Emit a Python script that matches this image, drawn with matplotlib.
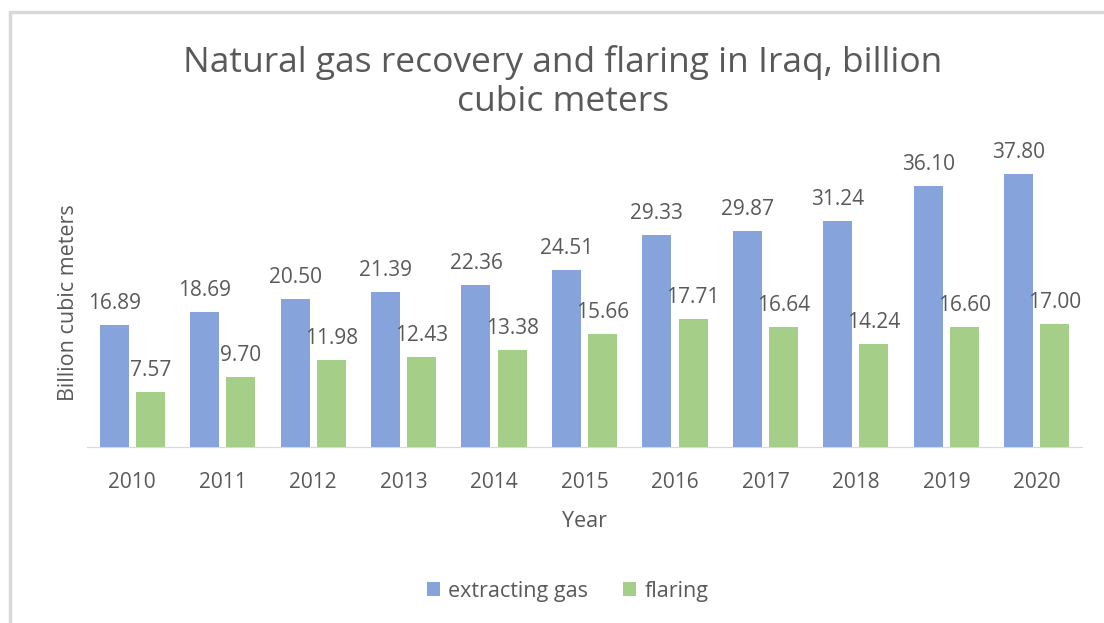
import numpy as np
import matplotlib.pyplot as plt
from matplotlib.patches import Rectangle

years = ['2010', '2011', '2012', '2013', '2014', '2015', '2016', '2017', '2018', '2019', '2020']
extracting = [16.89, 18.69, 20.50, 21.39, 22.36, 24.51, 29.33, 29.87, 31.24, 36.10, 37.80]
flaring = [7.57, 9.70, 11.98, 12.43, 13.38, 15.66, 17.71, 16.64, 14.24, 16.60, 17.00]

plt.rcParams['font.family'] = ['Open Sans', 'DejaVu Sans']
txt = '#595959'
blue = '#86a3dc'
green = '#a5cf88'

fig = plt.figure(figsize=(11.04, 6.23), dpi=100)
# outer chart frame
fig.patches.append(Rectangle((10 / 1104, -0.1), 1.2, 1.1 - 12 / 623, transform=fig.transFigure,
                             fill=False, edgecolor='#d9d9d9', linewidth=2.5))

ax = fig.add_axes([87 / 1104, 1 - 447 / 623, 995 / 1104, 289 / 623])
x = np.arange(len(years))
w = 0.32
b1 = ax.bar(x - 0.2, extracting, w, color=blue, label='extracting gas')
b2 = ax.bar(x + 0.2, flaring, w, color=green, label='flaring')

for bars, vals in ((b1, extracting), (b2, flaring)):
    for r, v in zip(bars, vals):
        ax.annotate(f'{v:.2f}', (r.get_x() + r.get_width() / 2, v), xytext=(0, 8),
                    textcoords='offset points', ha='center', va='bottom',
                    fontsize=15, color=txt)

ax.set_xlim(-0.5, 10.5)
ax.set_ylim(0, 40)
ax.set_xticks(x)
ax.set_xticklabels(years, fontsize=15, color=txt)
ax.tick_params(axis='x', length=0, pad=18)
ax.set_yticks([])
for s in ['top', 'right', 'left']:
    ax.spines[s].set_visible(False)
ax.spines['bottom'].set_color('#d9d9d9')

ax.set_xlabel('Year', fontsize=15.5, color=txt, labelpad=13)
ax.set_ylabel('Billion cubic meters', fontsize=15.5, color=txt, labelpad=6)

fig.text(0.51, 1 - 82 / 623, 'Natural gas recovery and flaring in Iraq, billion\ncubic meters',
         ha='center', va='center', fontsize=25.5, color=txt, linespacing=1.22)

fig.legend(handles=[b1, b2], loc='center', bbox_to_anchor=(0.514, 1 - 591 / 623),
           ncol=2, frameon=False, fontsize=15.5, labelcolor=txt,
           handlelength=0.6, handleheight=0.6, columnspacing=1.6, handletextpad=0.4)

fig.savefig('out.png', dpi=100)
